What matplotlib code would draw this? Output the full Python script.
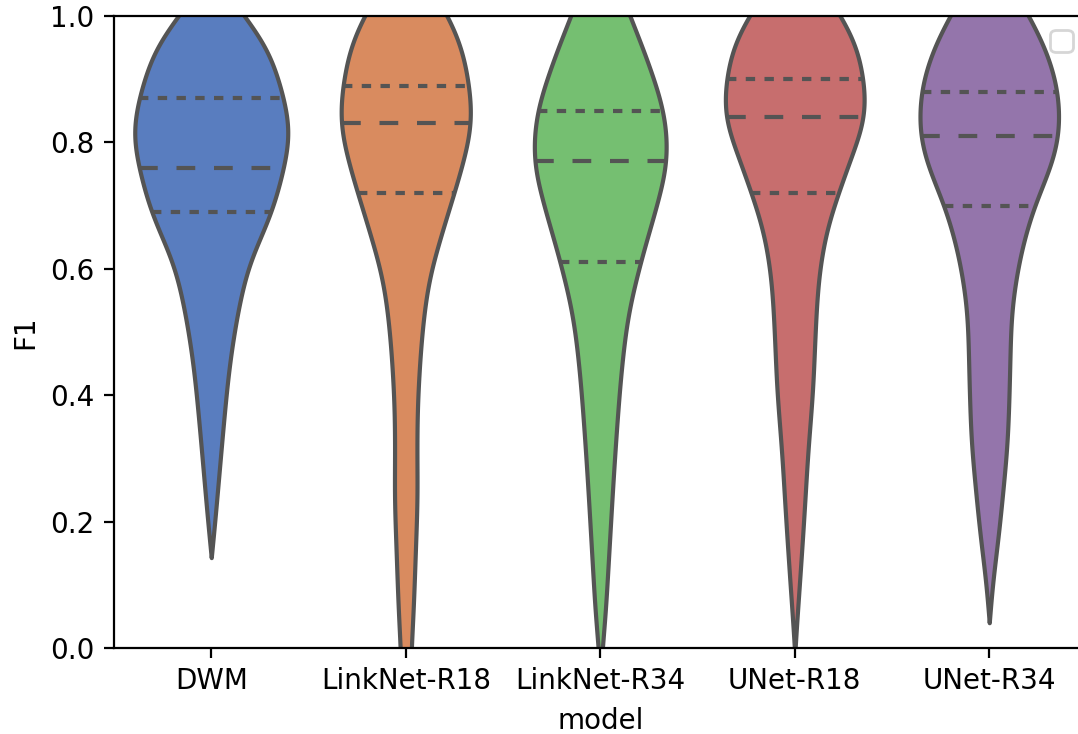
import colorsys
import numpy as np
import matplotlib
matplotlib.use("Agg")
import matplotlib.pyplot as plt
import matplotlib.colors as mcolors

# ---- data ----
models = ["DWM", "LinkNet-R18", "LinkNet-R34", "UNet-R18", "UNet-R34"]

# quartiles (q25, median, q75)
q25 = [0.69, 0.72, 0.61, 0.72, 0.70]
q50 = [0.76, 0.83, 0.77, 0.84, 0.81]
q75 = [0.87, 0.89, 0.85, 0.90, 0.88]

# violin half-width profiles (F1 level, half-width in category units)
dwm_y = [0.143, 0.20, 0.28, 0.36, 0.44, 0.52, 0.604, 0.69, 0.76, 0.816, 0.87, 0.908, 0.947, 1.0, 1.05]
dwm_w = [0.0, 0.018, 0.041, 0.064, 0.090, 0.129, 0.190, 0.310, 0.372, 0.404, 0.372, 0.337, 0.292, 0.170, 0.05]

ln18_y = [-0.1, 0.0, 0.044, 0.15, 0.255, 0.30, 0.361, 0.44, 0.52, 0.578, 0.657, 0.721, 0.773, 0.83, 0.848, 0.89, 0.947, 1.0, 1.05]
ln18_w = [0.02, 0.028, 0.036, 0.049, 0.059, 0.057, 0.058, 0.069, 0.090, 0.116, 0.185, 0.249, 0.298, 0.337, 0.339, 0.324, 0.290, 0.216, 0.12]

ln34_y = [-0.05, 0.0, 0.044, 0.15, 0.255, 0.361, 0.44, 0.52, 0.61, 0.71, 0.77, 0.80, 0.851, 0.90, 0.947, 1.0, 1.05]
ln34_w = [0.0, 0.010, 0.023, 0.044, 0.064, 0.087, 0.108, 0.139, 0.206, 0.298, 0.342, 0.344, 0.324, 0.275, 0.221, 0.152, 0.09]

un18_y = [-0.01, 0.017, 0.097, 0.203, 0.309, 0.414, 0.52, 0.578, 0.657, 0.72, 0.784, 0.84, 0.868, 0.90, 0.947, 1.0, 1.05]
un18_w = [0.0, 0.005, 0.023, 0.046, 0.067, 0.093, 0.108, 0.120, 0.160, 0.224, 0.298, 0.360, 0.365, 0.352, 0.324, 0.237, 0.13]

un34_y = [0.04, 0.097, 0.176, 0.255, 0.334, 0.414, 0.52, 0.604, 0.70, 0.762, 0.81, 0.84, 0.88, 0.947, 1.0, 1.05]
un34_w = [0.0, 0.015, 0.046, 0.072, 0.094, 0.103, 0.112, 0.148, 0.231, 0.316, 0.357, 0.362, 0.352, 0.290, 0.203, 0.11]

profiles_y = [dwm_y, ln18_y, ln34_y, un18_y, un34_y]
profiles_w = [dwm_w, ln18_w, ln34_w, un18_w, un34_w]

base_colors = ["#4878d0", "#ee854a", "#6acc64", "#d65f5f", "#956cb4"]  # seaborn "muted"


def desaturate(c, prop=0.75):
    r, g, b = mcolors.to_rgb(c)
    h, l, s = colorsys.rgb_to_hls(r, g, b)
    return colorsys.hls_to_rgb(h, l, s * prop)


def pchip(x, y, xn):
    x = np.asarray(x, float)
    y = np.asarray(y, float)
    h = np.diff(x)
    d = np.diff(y) / h
    m = np.zeros_like(y)
    m[0], m[-1] = d[0], d[-1]
    for k in range(1, len(x) - 1):
        if d[k - 1] * d[k] <= 0:
            m[k] = 0.0
        else:
            w1 = 2 * h[k] + h[k - 1]
            w2 = h[k] + 2 * h[k - 1]
            m[k] = (w1 + w2) / (w1 / d[k - 1] + w2 / d[k])
    idx = np.clip(np.searchsorted(x, xn) - 1, 0, len(x) - 2)
    t = (xn - x[idx]) / h[idx]
    h00 = 2 * t**3 - 3 * t**2 + 1
    h10 = t**3 - 2 * t**2 + t
    h01 = -2 * t**3 + 3 * t**2
    h11 = t**3 - t**2
    return h00 * y[idx] + h10 * h[idx] * m[idx] + h01 * y[idx + 1] + h11 * h[idx] * m[idx + 1]


def outline(py, pw, n=1200, sigma=0.03):
    """Smooth outline through the read-off profile points."""
    yy = np.linspace(py[0], py[-1], n)
    ww = np.clip(pchip(py, pw, yy), 0, None)
    step = yy[1] - yy[0]
    k = int(4 * sigma / step)
    kern = np.exp(-0.5 * (np.arange(-k, k + 1) * step / sigma) ** 2)
    kern /= kern.sum()
    sm = np.convolve(np.pad(ww, k, mode="reflect", reflect_type="odd"), kern, mode="valid")
    if pw[0] == 0:
        sm[0] = 0.0
    return yy, np.clip(sm, 0, None)


colors = [desaturate(c) for c in base_colors]
lum = min(colorsys.rgb_to_hls(*mcolors.to_rgb(c))[1] for c in base_colors) * 0.6
gray = (lum, lum, lum)
lw = 1.5

fig = plt.figure(figsize=(5.39, 3.67), dpi=200)
ax = fig.add_axes([114 / 1078, 86 / 734, 972.5 / 1078, 632 / 734])

for i, (py, pw) in enumerate(zip(profiles_y, profiles_w)):
    yy, ww = outline(py, pw)
    ax.fill_betweenx(yy, i - ww, i + ww, facecolor=colors[i], edgecolor=gray,
                     linewidth=lw, zorder=1)
    for val, dash in ((q25[i], 1.5), (q50[i], 3.0), (q75[i], 1.5)):
        hw = float(np.interp(val, yy, ww))
        ax.plot([i - hw, i + hw], [val, val], color=gray, linewidth=lw,
                dashes=[lw * dash] * 2, solid_capstyle="butt",
                dash_capstyle="butt", zorder=2)

ax.set_xlim(-0.5, 4.5)
ax.set_ylim(0, 1)
ax.set_xticks(range(len(models)))
ax.set_xticklabels(models)
ax.set_yticks([0.0, 0.2, 0.4, 0.6, 0.8, 1.0])
ax.set_xlabel("model")
ax.set_ylabel("F1")
ax.legend(handles=[], loc="upper right")

fig.savefig("out.png", dpi=200)
